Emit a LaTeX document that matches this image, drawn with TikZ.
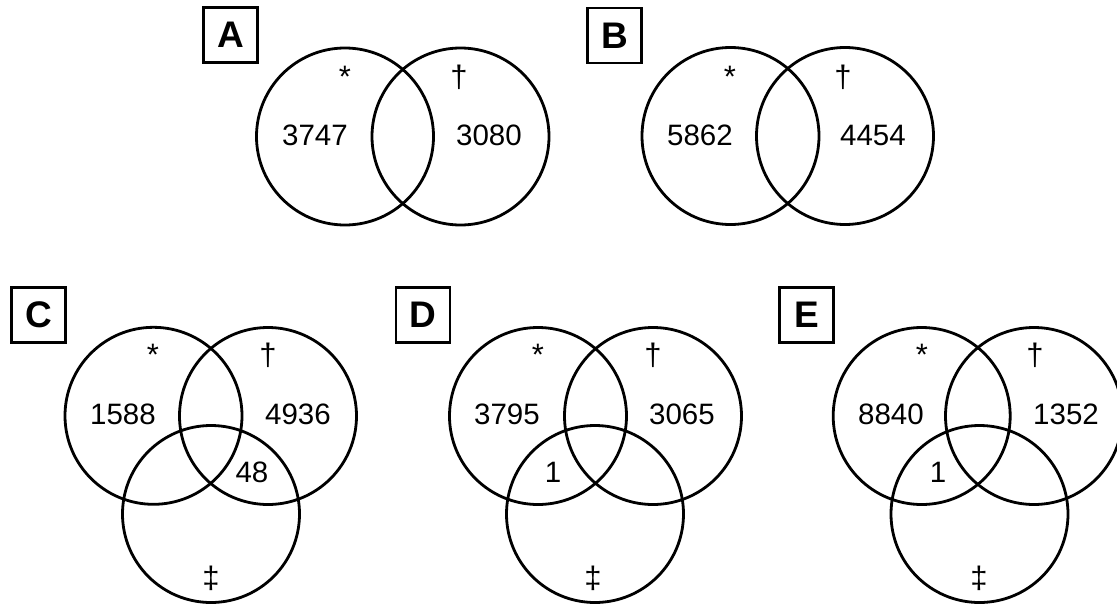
\documentclass[tikz,border=0pt]{standalone}
\usepackage{fontspec}
\setmainfont{Liberation Sans}
\begin{document}
\begin{tikzpicture}[x=1pt,y=-1pt,
  venn/.style={draw=black,line width=2.8pt,circle,minimum size=177pt,inner sep=0pt},
  panel/.style={draw=black,line width=2.8pt,minimum width=54pt,minimum height=55pt,inner sep=0pt,font=\fontsize{37}{37}\selectfont\bfseries},
  num/.style={anchor=base,inner sep=0pt,font=\fontsize{29.5}{29.5}\selectfont},
  sym/.style={anchor=base,inner sep=0pt,font=\fontsize{31}{31}\selectfont}]
\useasboundingbox (0,0) rectangle (1117,603);
\clip (0,0) rectangle (1117,603);
% Panel A
\node[panel] (boxA) at (230.5,35) {A};
\node[venn] (A1) at (345,136.5) {};
\node[venn] (A2) at (460.5,136.5) {};
\node[sym] (As) at (345,87) {*};
\node[sym] (Ad) at (459,87) {†};
\node[num] (An1) at (315,145) {3747};
\node[num] (An2) at (489,145) {3080};
% Panel B
\node[panel] (boxB) at (614.5,35.5) {B};
\node[venn] (B1) at (730.5,136) {};
\node[venn] (B2) at (845,136) {};
\node[sym] (Bs) at (730,87) {*};
\node[sym] (Bd) at (843,87) {†};
\node[num] (Bn1) at (700,145) {5862};
\node[num] (Bn2) at (873,145) {4454};
% Panel C
\node[panel] (boxC) at (38.5,315) {C};
\node[venn] (C1) at (153.5,415.8) {};
\node[venn] (C2) at (268,416) {};
\node[venn] (C3) at (211,514) {};
\node[sym] (Cs) at (153,365) {*};
\node[sym] (Cd) at (268,365) {†};
\node[sym] (Cdd) at (211,588) {‡};
\node[num] (Cn1) at (123,424) {1588};
\node[num] (Cn2) at (298,424) {4936};
\node[num] (Cn3) at (252,482) {48};
% Panel D
\node[panel] (boxD) at (423,315) {D};
\node[venn] (D1) at (538,416) {};
\node[venn] (D2) at (653,416) {};
\node[venn] (D3) at (595,514) {};
\node[sym] (Ds) at (538,365) {*};
\node[sym] (Dd) at (653,365) {†};
\node[sym] (Ddd) at (593,588) {‡};
\node[num] (Dn1) at (507,424) {3795};
\node[num] (Dn2) at (682,424) {3065};
\node[num] (Dn3) at (553,482) {1};
% Panel E
\node[panel] (boxE) at (806.5,315) {E};
\node[venn] (E1) at (921.7,416) {};
\node[venn] (E2) at (1034,416) {};
\node[venn] (E3) at (979.5,514) {};
\node[sym] (Es) at (922,365) {*};
\node[sym] (Ed) at (1035,365) {†};
\node[sym] (Edd) at (979,588) {‡};
\node[num] (En1) at (891,424) {8840};
\node[num] (En2) at (1066,424) {1352};
\node[num] (En3) at (938,482) {1};
\end{tikzpicture}
\end{document}
